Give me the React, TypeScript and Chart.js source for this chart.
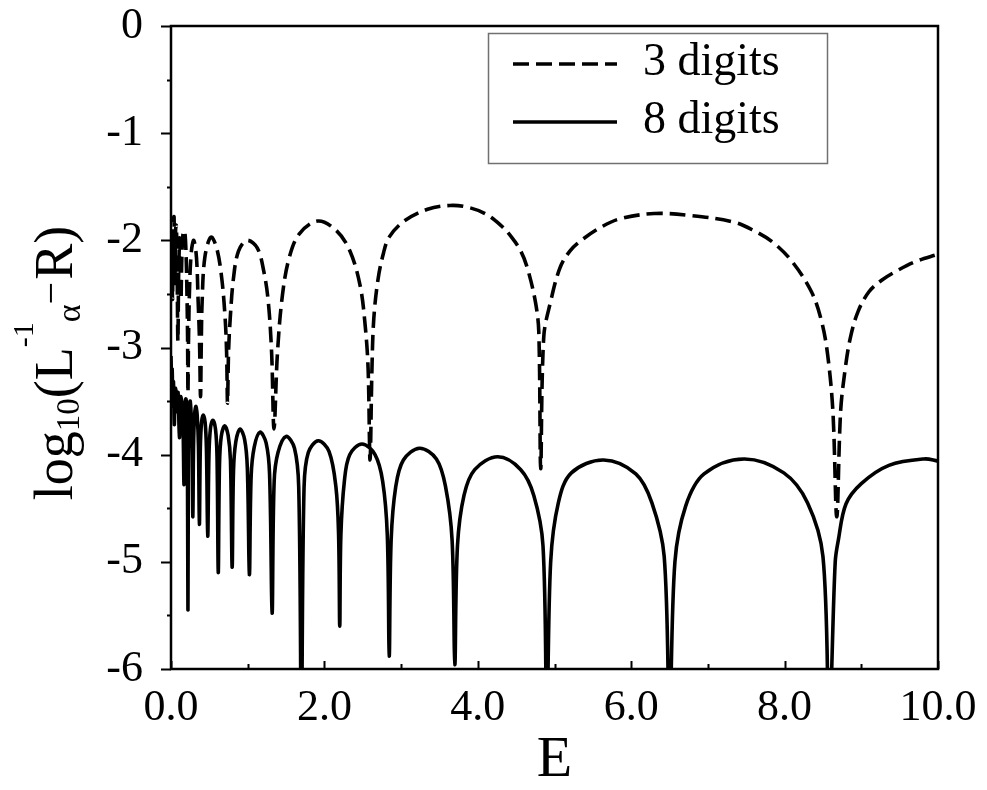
import React, { useEffect, useRef } from "react";
import { Chart, registerables } from "chart.js";

Chart.register(...registerables);

const SERIF = '"Liberation Serif", "Times New Roman", serif';

// ---- data ----
const xTickValues = [0, 2, 4, 6, 8, 10];
const xMinorTickValues = [1, 3, 5, 7, 9];
const yTickValues = [-6, -5, -4, -3, -2, -1, 0];
const yMinorTickValues = [-5.5, -4.5, -3.5, -2.5, -1.5, -0.5];
const seriesLabels = ["3 digits", "8 digits"];
const xTitle = "E";

// 3 digits (dashed): [E, log10(...)]
const digits3Points = [
  [0.000, -2.35], [0.010, -1.95], [0.020, -2.55], [0.030, -1.82], [0.040, -1.78],
  [0.050, -2.40], [0.060, -1.90], [0.070, -1.86], [0.080, -2.30], [0.090, -2.94],
  [0.100, -2.30], [0.115, -1.98], [0.130, -2.55], [0.140, -2.20], [0.155, -1.95],
  [0.177, -1.91], [0.195, -2.10], [0.208, -2.50], [0.216, -2.90], [0.221, -3.42],
  [0.229, -2.90], [0.243, -2.42], [0.266, -2.10], [0.297, -2.00], [0.332, -2.16],
  [0.354, -2.57], [0.372, -2.95], [0.385, -3.46], [0.395, -2.95], [0.406, -2.57],
  [0.441, -2.16], [0.520, -1.97], [0.595, -2.07], [0.661, -2.35], [0.706, -2.73],
  [0.725, -3.05], [0.737, -3.52], [0.750, -3.05], [0.772, -2.73], [0.815, -2.35],
  [0.880, -2.10], [0.990, -2.00], [1.124, -2.07], [1.210, -2.29], [1.268, -2.57],
  [1.312, -3.05], [1.343, -3.76], [1.388, -3.05], [1.453, -2.51], [1.542, -2.16],
  [1.673, -1.94], [1.915, -1.82], [2.157, -1.91], [2.333, -2.10], [2.465, -2.42],
  [2.531, -2.79], [2.570, -3.20], [2.595, -4.05], [2.620, -3.20], [2.644, -2.73],
  [2.700, -2.36], [2.770, -2.12], [2.844, -1.97], [3.040, -1.82], [3.345, -1.71],
  [3.635, -1.675], [3.860, -1.69], [4.094, -1.75], [4.300, -1.86], [4.440, -1.97],
  [4.560, -2.10], [4.647, -2.26], [4.750, -2.57], [4.795, -2.85], [4.820, -4.13],
  [4.860, -2.90], [4.950, -2.57], [5.070, -2.26], [5.200, -2.10], [5.350, -2.00],
  [5.600, -1.88], [5.850, -1.80], [6.300, -1.75], [6.800, -1.77], [7.340, -1.83],
  [7.600, -1.91], [7.850, -2.02], [8.100, -2.20], [8.350, -2.48], [8.480, -2.75],
  [8.560, -3.06], [8.630, -3.60], [8.680, -4.58], [8.730, -3.60], [8.790, -3.20],
  [8.860, -2.90], [8.960, -2.66], [9.100, -2.48], [9.270, -2.37], [9.450, -2.29],
  [9.700, -2.20], [10.000, -2.13],
];

// 8 digits (solid): [E, log10(...)]
const digits8Points = [
  [0.000, -3.08], [0.008, -3.30], [0.015, -3.20], [0.025, -3.55], [0.032, -3.32],
  [0.043, -3.72], [0.055, -3.38], [0.068, -3.42], [0.080, -3.60], [0.092, -3.42],
  [0.110, -3.84], [0.125, -3.46], [0.140, -3.50], [0.155, -3.65], [0.170, -4.28],
  [0.182, -3.55], [0.195, -3.48], [0.208, -3.62], [0.214, -4.00], [0.221, -5.45],
  [0.228, -3.95], [0.238, -3.58], [0.250, -3.50], [0.262, -3.62], [0.276, -3.95],
  [0.285, -4.58], [0.294, -3.92], [0.308, -3.62], [0.325, -3.55], [0.342, -3.64],
  [0.358, -3.92], [0.370, -4.65], [0.382, -3.95], [0.398, -3.70], [0.420, -3.63],
  [0.445, -3.70], [0.462, -3.95], [0.479, -4.76], [0.495, -4.00], [0.515, -3.75],
  [0.545, -3.68], [0.580, -3.76], [0.600, -4.02], [0.616, -5.10], [0.632, -4.10],
  [0.655, -3.83], [0.700, -3.73], [0.745, -3.82], [0.775, -4.05], [0.797, -5.05],
  [0.815, -4.15], [0.845, -3.88], [0.900, -3.76], [0.960, -3.86], [0.995, -4.12],
  [1.022, -5.12], [1.045, -4.20], [1.085, -3.93], [1.160, -3.79], [1.240, -3.89],
  [1.285, -4.18], [1.318, -5.48], [1.345, -4.25], [1.395, -3.98], [1.500, -3.83],
  [1.610, -3.94], [1.665, -4.30], [1.700, -6.50], [1.735, -4.30], [1.790, -3.98],
  [1.920, -3.87], [2.060, -3.97], [2.150, -4.30], [2.185, -4.75], [2.200, -5.60],
  [2.215, -4.75], [2.260, -4.25], [2.330, -4.00], [2.490, -3.90], [2.660, -4.00],
  [2.760, -4.25], [2.820, -4.75], [2.845, -5.88], [2.870, -4.80], [2.930, -4.30],
  [3.030, -4.05], [3.240, -3.94], [3.460, -4.04], [3.580, -4.30], [3.665, -4.80],
  [3.700, -5.96], [3.735, -4.85], [3.820, -4.38], [3.960, -4.14], [4.260, -4.02],
  [4.560, -4.14], [4.730, -4.38], [4.850, -4.85], [4.900, -6.50], [4.950, -5.00],
  [5.050, -4.45], [5.220, -4.17], [5.640, -4.05], [6.060, -4.18], [6.270, -4.45],
  [6.430, -4.95], [6.500, -6.50], [6.570, -5.00], [6.710, -4.48], [6.950, -4.18],
  [7.470, -4.04], [7.990, -4.17], [8.300, -4.45], [8.500, -4.95], [8.580, -6.50],
  [8.660, -5.00], [8.700, -4.80], [8.800, -4.46], [9.000, -4.27], [9.360, -4.10],
  [9.820, -4.04], [10.000, -4.06],
];

const toXY = (pts: number[][]) => pts.map(([x, y]) => ({ x, y }));

const decorPlugin = {
  id: "decor",
  afterDraw(chart: any) {
    const { ctx, chartArea } = chart;
    const { left, right, top, bottom } = chartArea;
    const xs = chart.scales.x;
    const ys = chart.scales.y;
    ctx.save();
    ctx.strokeStyle = "#000";
    ctx.fillStyle = "#000";

    // frame
    ctx.lineWidth = 2.5;
    ctx.strokeRect(left, top, right - left, bottom - top);

    // y ticks (outward)
    ctx.lineWidth = 2;
    ctx.beginPath();
    yTickValues.forEach((v) => {
      const p = Math.round(ys.getPixelForValue(v)) + 0.5;
      ctx.moveTo(left - 10, p);
      ctx.lineTo(left, p);
    });
    yMinorTickValues.forEach((v) => {
      const p = Math.round(ys.getPixelForValue(v)) + 0.5;
      ctx.moveTo(left - 4, p);
      ctx.lineTo(left, p);
    });
    // x ticks (inward)
    xTickValues.forEach((v) => {
      const p = Math.round(xs.getPixelForValue(v)) + 0.5;
      ctx.moveTo(p, bottom);
      ctx.lineTo(p, bottom - 8);
    });
    xMinorTickValues.forEach((v) => {
      const p = Math.round(xs.getPixelForValue(v)) + 0.5;
      ctx.moveTo(p, bottom);
      ctx.lineTo(p, bottom - 5);
    });
    ctx.stroke();

    // x title
    ctx.font = `58px ${SERIF}`;
    ctx.textAlign = "center";
    ctx.textBaseline = "alphabetic";
    ctx.fillText(xTitle, (left + right) / 2, 776);

    // y title: log10(L^-1_alpha - R)
    const parts = [
      { t: "log", size: 54, dy: 0, gap: 0 },
      { t: "10", size: 33, dy: 7, gap: 0 },
      { t: "(L", size: 54, dy: 0, gap: 0 },
      { t: "-1", size: 30, dy: -39, gap: 0 },
      { t: "\u03b1", size: 34, dy: 8, gap: 0 },
      { t: "\u2212", size: 40, dy: -8, gap: 0 },
      { t: "R)", size: 54, dy: 0, gap: 2 },
    ];
    let total = 0;
    parts.forEach((p) => {
      ctx.font = `${p.size}px ${SERIF}`;
      total += p.gap + ctx.measureText(p.t).width;
    });
    const centerY = 363;
    ctx.translate(72, centerY + total / 2);
    ctx.rotate(-Math.PI / 2);
    ctx.textAlign = "left";
    let cx = 0;
    parts.forEach((p) => {
      ctx.font = `${p.size}px ${SERIF}`;
      cx += p.gap;
      ctx.fillText(p.t, cx, p.dy);
      cx += ctx.measureText(p.t).width;
    });
    ctx.restore();

    // legend
    ctx.save();
    ctx.fillStyle = "#fff";
    ctx.fillRect(488, 33, 339, 130);
    ctx.strokeStyle = "#707070";
    ctx.lineWidth = 1.5;
    ctx.strokeRect(488.5, 33.5, 339, 130);
    const rows = [64, 122];
    chart.data.datasets.forEach((ds: any, i: number) => {
      const y = rows[i];
      ctx.strokeStyle = "#000";
      ctx.lineWidth = ds.borderWidth;
      ctx.setLineDash(ds.borderDash || []);
      ctx.beginPath();
      ctx.moveTo(513, y);
      ctx.lineTo(617, y);
      ctx.stroke();
      ctx.setLineDash([]);
      ctx.fillStyle = "#000";
      ctx.font = `46px ${SERIF}`;
      ctx.textAlign = "left";
      ctx.textBaseline = "middle";
      ctx.fillText(ds.label, 643, y - 1);
    });
    ctx.restore();
  },
};

export default function App() {
  const ref = useRef<HTMLCanvasElement | null>(null);
  useEffect(() => {
    if (!ref.current) return;
    const chart = new Chart(ref.current, {
      type: "line",
      data: {
        datasets: [
          {
            label: seriesLabels[0],
            data: toXY(digits3Points),
            borderColor: "#000",
            borderWidth: 3.6,
            borderDash: [16, 7],
            pointRadius: 0,
            fill: false,
            tension: 0.35,
          },
          {
            label: seriesLabels[1],
            data: toXY(digits8Points),
            borderColor: "#000",
            borderWidth: 3.6,
            pointRadius: 0,
            fill: false,
            tension: 0.35,
          },
        ],
      },
      options: {
        animation: false,
        responsive: false,
        layout: { padding: { top: 26, right: 49, left: 0, bottom: 0 } },
        plugins: { legend: { display: false }, tooltip: { enabled: false } },
        scales: {
          x: {
            type: "linear",
            min: 0,
            max: 10,
            afterFit: (s: any) => {
              s.height = 121;
              s.paddingLeft = 0;
              s.paddingRight = 0;
            },
            afterBuildTicks: (s: any) => { s.ticks = xTickValues.map((v) => ({ value: v })); },
            grid: { display: false, drawTicks: false },
            border: { display: false },
            ticks: {
              padding: 13,
              color: "#000",
              font: { family: SERIF, size: 44 },
              maxRotation: 0,
              autoSkip: false,
              callback: (v: any) => Number(v).toFixed(1),
            },
          },
          y: {
            type: "linear",
            min: -6,
            max: 0,
            afterFit: (s: any) => {
              s.width = 171;
              s.paddingTop = 0;
              s.paddingBottom = 0;
            },
            afterBuildTicks: (s: any) => { s.ticks = yTickValues.map((v) => ({ value: v })); },
            grid: { display: false, drawTicks: false },
            border: { display: false },
            ticks: {
              padding: 28,
              color: "#000",
              font: { family: SERIF, size: 44 },
              autoSkip: false,
              callback: (v: any) => String(v),
            },
          },
        },
      },
      plugins: [decorPlugin],
    } as any);
    return () => chart.destroy();
  }, []);
  return (
    <div style={{ position: "absolute", left: 0, top: 0, width: 987, height: 790, background: "#fff" }}>
      <canvas ref={ref} width={987} height={790} />
    </div>
  );
}
